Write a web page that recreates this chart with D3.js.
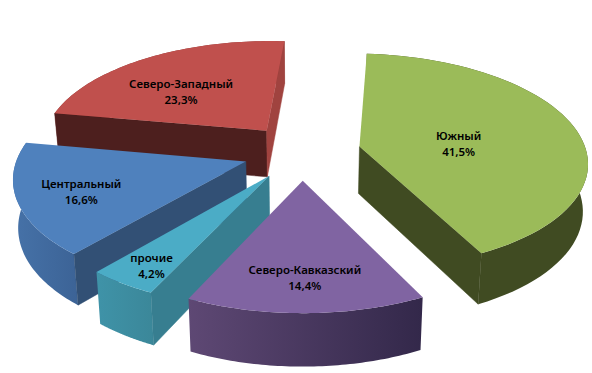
<!DOCTYPE html>
<html>
<head>
<meta charset="utf-8">
<script src="https://cdn.jsdelivr.net/npm/d3@7"></script>
<style>
  html, body { margin: 0; padding: 0; background: #fff; }
  svg { display: block; }
  .label { font-family: "Noto Sans", sans-serif; font-size: 11.5px; font-weight: 600; fill: #000; text-anchor: middle; }
</style>
</head>
<body>
<div id="container"></div>
<script>
const categories = ['Южный', 'Северо-Кавказский', 'прочие', 'Центральный', 'Северо-Западный'];
const shares = [41.5, 14.4, 4.2, 16.6, 23.3];
const shareLabels = ['41,5%', '14,4%', '4,2%', '16,6%', '23,3%'];

// colours per slice
const topColors = ['#9bbb59', '#8064a2', '#4bacc6', '#4f81bd', '#c0504d'];
const sideColors = ['#404b22', '#4d3c62', '#377e90', '#325075', '#4d1f1e'];
const endColors = ['#404b22', '#4d3c62', '#377e90', '#325075', '#a0433f'];
const rimLeft = ['#404b22', '#5e4874', '#3f93a8', '#4672a8', '#8a3b38'];
const rimRight = ['#404b22', '#33284a', '#3b8799', '#3c6396', '#8a3b38'];

// label shift away from the face centroid
const labelNudges = [[-13, -5], [0, 10], [-20, 17], [-20, 1], [-8, 2]];

// back to front
const drawOrder = [4, 0, 3, 2, 1];

const width = 592, height = 373;

// fake 3d camera
const cx = 302, cy = 152;
const radius = 227, explode = 59, depth = 47;
const squash = 0.47, persp = 0.00058, bottomScale = 0.982;
const firstAngle = 4 * Math.PI / 180;

const svg = d3.select('#container').append('svg')
  .attr('width', width)
  .attr('height', height);

const defs = svg.append('defs');

const pie = d3.pie().sort(null).startAngle(firstAngle).endAngle(firstAngle + 2 * Math.PI);
const slices = pie(shares);

function project(X, Z, bottom) {
  const s = 1 / (1 - persp * Z);
  const b = bottom ? bottomScale : 1;
  return [cx + X * s * b, cy + squash * Z * s * b + (bottom ? depth * s : 0)];
}

// point on a slice: a = clockwise angle from the top, r = distance from slice apex
function slicePoint(d, a, r, bottom) {
  const mid = (d.startAngle + d.endAngle) / 2;
  const X = explode * Math.sin(mid) + r * Math.sin(a);
  const Z = -explode * Math.cos(mid) - r * Math.cos(a);
  return project(X, Z, bottom);
}

function arcPoints(d, bottom) {
  return d3.range(0, 61).map(i => {
    const a = d.startAngle + (d.endAngle - d.startAngle) * i / 60;
    return slicePoint(d, a, radius, bottom);
  });
}

const line = d3.line().curve(d3.curveLinear);
const closed = pts => line(pts) + 'Z';

// only walls turned to the viewer get drawn
function facing(pts) {
  return d3.polygonArea(pts) > 0;
}

drawOrder.forEach(i => {
  const d = slices[i];
  const g = svg.append('g').attr('class', 'slice');
  const topArc = arcPoints(d, false);
  const botArc = arcPoints(d, true);
  const apexT = slicePoint(d, d.startAngle, 0, false);
  const apexB = slicePoint(d, d.startAngle, 0, true);

  const grad = defs.append('linearGradient').attr('id', 'rim' + i);
  grad.append('stop').attr('offset', '0%').attr('stop-color', rimLeft[i]);
  grad.append('stop').attr('offset', '100%').attr('stop-color', rimRight[i]);

  g.append('path')
    .attr('d', closed(topArc.concat(botArc.slice().reverse())))
    .attr('fill', 'url(#rim' + i + ')');

  const startWall = [apexT, topArc[0], botArc[0], apexB];
  const endWall = [apexB, botArc[60], topArc[60], apexT];
  if (facing(startWall)) {
    g.append('path').attr('d', closed(startWall)).attr('fill', sideColors[i])
      .attr('stroke', sideColors[i]).attr('stroke-width', 0.5);
  }
  if (facing(endWall)) {
    g.append('path').attr('d', closed(endWall)).attr('fill', endColors[i])
      .attr('stroke', endColors[i]).attr('stroke-width', 0.5);
  }

  g.append('path')
    .attr('d', closed([apexT].concat(topArc)))
    .attr('fill', topColors[i]);
});

// labels sit near the centre of the top face
slices.forEach((d, i) => {
  const apexT = slicePoint(d, d.startAngle, 0, false);
  const c = d3.polygonCentroid([apexT].concat(arcPoints(d, false)));
  const x = c[0] + labelNudges[i][0];
  const y = c[1] + labelNudges[i][1];
  const t = svg.append('text').attr('class', 'label').attr('x', x).attr('y', y);
  t.append('tspan').attr('x', x).attr('dy', '-2').text(categories[i]);
  t.append('tspan').attr('x', x).attr('dy', '16').text(shareLabels[i]);
});
</script>
</body>
</html>
